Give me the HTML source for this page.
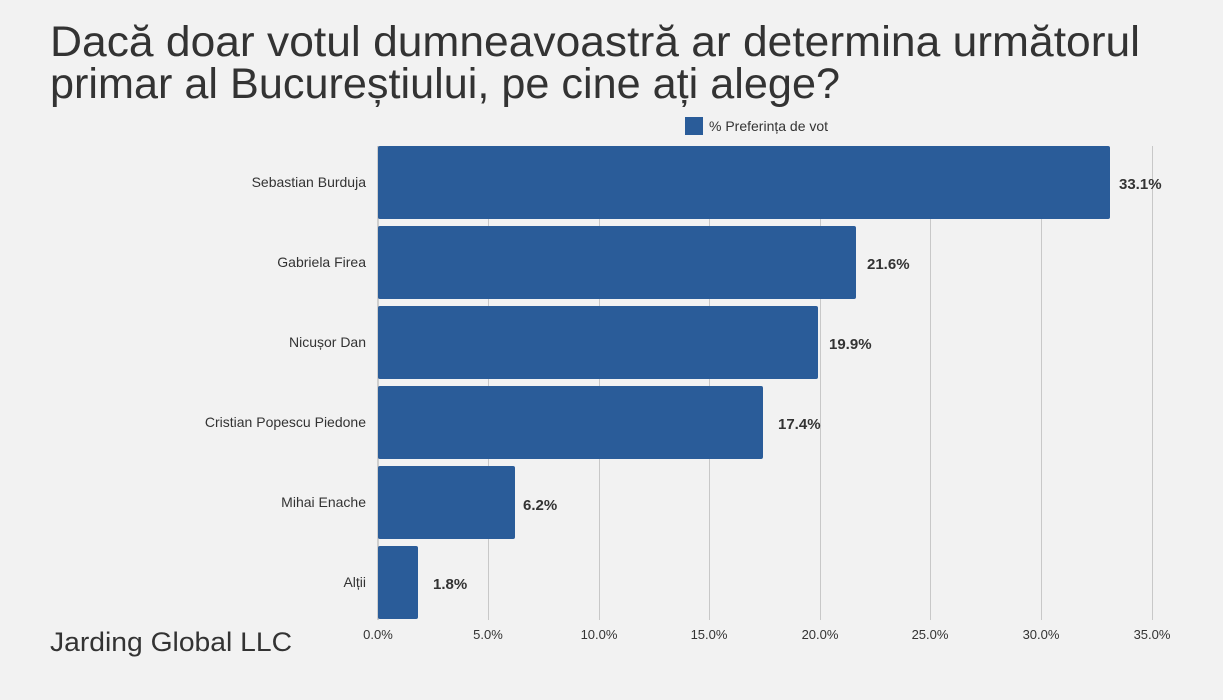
<!DOCTYPE html>
<html><head><meta charset="utf-8"><style>
html,body{margin:0;padding:0;background:#f2f2f2;}
svg{display:block;font-family:"Liberation Sans",sans-serif;}
</style></head><body>
<svg width="1223" height="700" viewBox="0 0 1223 700" xmlns="http://www.w3.org/2000/svg">
<rect width="1223" height="700" fill="#f2f2f2"/>
<text x="50" y="56" font-size="43" fill="#333" textLength="1090" lengthAdjust="spacingAndGlyphs">Dacă doar votul dumneavoastră ar determina următorul</text>
<text x="50" y="98" font-size="43" fill="#333" textLength="790" lengthAdjust="spacingAndGlyphs">primar al Bucureștiului, pe cine ați alege?</text>
<rect x="685" y="117" width="18" height="18" fill="#2a5c99"/>
<text x="709" y="131" font-size="14" fill="#333">% Preferința de vot</text>
<g stroke="#c8c8c8" stroke-width="1">
<line x1="488.5" y1="146" x2="488.5" y2="620"/><line x1="599.5" y1="146" x2="599.5" y2="620"/>
<line x1="709.5" y1="146" x2="709.5" y2="620"/><line x1="820.5" y1="146" x2="820.5" y2="620"/>
<line x1="930.5" y1="146" x2="930.5" y2="620"/><line x1="1041.5" y1="146" x2="1041.5" y2="620"/>
<line x1="1152.5" y1="146" x2="1152.5" y2="620"/>
</g>
<line x1="378" y1="146" x2="378" y2="620" stroke="#aaa"/>
<g fill="#2a5c99">
<rect x="378" y="146" width="732" height="73" rx="2"/>
<rect x="378" y="226" width="478" height="73" rx="2"/>
<rect x="378" y="306" width="440" height="73" rx="2"/>
<rect x="378" y="386" width="385" height="73" rx="2"/>
<rect x="378" y="466" width="137" height="73" rx="2"/>
<rect x="378" y="546" width="40" height="73" rx="2"/>
</g>
<g font-size="14" fill="#333" text-anchor="end">
<text x="366" y="187">Sebastian Burduja</text>
<text x="366" y="267">Gabriela Firea</text>
<text x="366" y="347">Nicușor Dan</text>
<text x="366" y="427">Cristian Popescu Piedone</text>
<text x="366" y="507">Mihai Enache</text>
<text x="366" y="587">Alții</text>
</g>
<g font-size="15" font-weight="bold" fill="#333">
<text x="1119" y="189">33.1%</text>
<text x="867" y="269">21.6%</text>
<text x="829" y="349">19.9%</text>
<text x="778" y="429">17.4%</text>
<text x="523" y="510">6.2%</text>
<text x="433" y="589">1.8%</text>
</g>
<g font-size="13" fill="#333" text-anchor="middle">
<text x="378" y="639">0.0%</text><text x="488" y="639">5.0%</text><text x="599" y="639">10.0%</text>
<text x="709" y="639">15.0%</text><text x="820" y="639">20.0%</text><text x="930" y="639">25.0%</text>
<text x="1041" y="639">30.0%</text><text x="1152" y="639">35.0%</text>
</g>
<text x="50" y="651" font-size="27" fill="#333" textLength="242" lengthAdjust="spacingAndGlyphs">Jarding Global LLC</text>
</svg>
</body></html>
